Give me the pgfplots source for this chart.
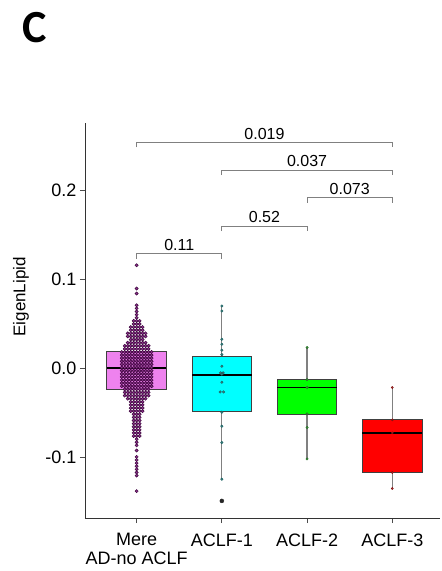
\documentclass[border=0pt]{standalone}
\usepackage{pgfplots}
\pgfplotsset{compat=1.18}
\usepgfplotslibrary{statistics}
\usepackage{fontspec}
\setmainfont{Liberation Sans}
\newfontfamily\carlito{Carlito}
\definecolor{boxviolet}{RGB}{238,130,238}
\definecolor{boxcyan}{RGB}{0,255,255}
\definecolor{boxgreen}{RGB}{0,255,0}
\definecolor{boxred}{RGB}{255,0,0}
\definecolor{dotpurpD}{RGB}{60,5,60}
\definecolor{dotpurpF}{RGB}{140,50,140}
\definecolor{dotteal}{RGB}{20,95,95}
\definecolor{dotgreen}{RGB}{30,110,30}
\definecolor{dotred}{RGB}{130,10,10}
\definecolor{brk}{RGB}{128,128,128}
\begin{document}
\begin{tikzpicture}
\useasboundingbox (-85pt,-53pt) rectangle (357pt,518pt);
\begin{axis}[
  scale only axis, width=355pt, height=395pt,
  xmin=-0.606, xmax=3.56, ymin=-0.168, ymax=0.276,
  clip=false,
  axis lines=left, axis line style={-, black!80, line width=0.8pt},
  tick align=outside, major tick length=5pt,
  tick style={black!70, line width=0.8pt},
  xtick={0,1,2,3},
  xticklabels={{Mere\\AD-no ACLF},ACLF-1,ACLF-2,ACLF-3},
  xticklabel style={align=center, yshift=-7pt, font=\fontsize{18}{19}\selectfont},
  ytick={-0.1,0,0.1,0.2},
  yticklabels={-0.1,0.0,0.1,0.2},
  yticklabel style={font=\fontsize{18}{19}\selectfont},
  ylabel={EigenLipid},
  ylabel style={at={(axis description cs:-0.18,0.56)}, anchor=center, font=\fontsize{17}{19}\selectfont},
  boxplot/draw direction=y,
  boxplot/box extend=0.7,
  boxplot/whisker extend=0,
  boxplot/every whisker/.style={draw=black!50, line width=1.2pt},
  boxplot/every median/.style={draw=black, line width=1.8pt},
  boxplot/every box/.style={draw=black!75, line width=0.8pt},
]
% boxes
\addplot[fill=boxviolet, boxplot prepared={draw position=0, lower whisker=-0.086, lower quartile=-0.023, median=0.0007, upper quartile=0.0194, upper whisker=0.0711}] coordinates {};
\addplot[fill=boxcyan, boxplot prepared={draw position=1, lower whisker=-0.1244, lower quartile=-0.048, median=-0.0075, upper quartile=0.0142, upper whisker=0.0703}] coordinates {};
\addplot[fill=boxgreen, boxplot prepared={draw position=2, lower whisker=-0.1016, lower quartile=-0.051, median=-0.0213, upper quartile=-0.0125, upper whisker=0.0236}] coordinates {};
\addplot[fill=boxred, boxplot prepared={draw position=3, lower whisker=-0.1348, lower quartile=-0.1169, median=-0.0723, upper quartile=-0.0577, upper whisker=-0.0213}] coordinates {};
% beeswarm, Mere AD-no ACLF
\addplot[only marks, mark=*, mark size=1.6pt, mark options={draw=dotpurpD, fill=dotpurpF, line width=0.5pt}] coordinates {
(0,0.1161) (0,0.0899) (0,0.0843) (0,0.0711) (0,0.0676) (0,0.0641) (0,0.0606) (0,0.0571)
(-0.035,0.0536) (0,0.0536) (0.035,0.0536)
(-0.035,0.0501) (0,0.0501) (0.035,0.0501)
(-0.07,0.0466) (-0.035,0.0466) (0,0.0466) (0.035,0.0466) (0.07,0.0466)
(-0.07,0.0431) (-0.035,0.0431) (0,0.0431) (0.035,0.0431) (0.07,0.0431)
(-0.105,0.0396) (-0.07,0.0396) (-0.035,0.0396) (0,0.0396) (0.035,0.0396) (0.07,0.0396) (0.105,0.0396)
(-0.105,0.0361) (-0.07,0.0361) (-0.035,0.0361) (0,0.0361) (0.035,0.0361) (0.07,0.0361) (0.105,0.0361)
(-0.07,0.0326) (-0.035,0.0326) (0,0.0326) (0.035,0.0326) (0.07,0.0326)
(-0.105,0.0291) (-0.07,0.0291) (-0.035,0.0291) (0,0.0291) (0.035,0.0291) (0.07,0.0291) (0.105,0.0291)
(-0.14,0.0256) (-0.105,0.0256) (-0.07,0.0256) (-0.035,0.0256) (0,0.0256) (0.035,0.0256) (0.07,0.0256) (0.105,0.0256) (0.14,0.0256)
(-0.14,0.0221) (-0.105,0.0221) (-0.07,0.0221) (-0.035,0.0221) (0,0.0221) (0.035,0.0221) (0.07,0.0221) (0.105,0.0221) (0.14,0.0221)
(-0.175,0.0186) (-0.14,0.0186) (-0.105,0.0186) (-0.07,0.0186) (-0.035,0.0186) (0,0.0186) (0.035,0.0186) (0.07,0.0186) (0.105,0.0186) (0.14,0.0186) (0.175,0.0186)
(-0.175,0.0151) (-0.14,0.0151) (-0.105,0.0151) (-0.07,0.0151) (-0.035,0.0151) (0,0.0151) (0.035,0.0151) (0.07,0.0151) (0.105,0.0151) (0.14,0.0151) (0.175,0.0151)
(-0.175,0.0116) (-0.14,0.0116) (-0.105,0.0116) (-0.07,0.0116) (-0.035,0.0116) (0,0.0116) (0.035,0.0116) (0.07,0.0116) (0.105,0.0116) (0.14,0.0116) (0.175,0.0116)
(-0.175,0.0081) (-0.14,0.0081) (-0.105,0.0081) (-0.07,0.0081) (-0.035,0.0081) (0,0.0081) (0.035,0.0081) (0.07,0.0081) (0.105,0.0081) (0.14,0.0081) (0.175,0.0081)
(-0.175,0.0046) (-0.14,0.0046) (-0.105,0.0046) (-0.07,0.0046) (-0.035,0.0046) (0,0.0046) (0.035,0.0046) (0.07,0.0046) (0.105,0.0046) (0.14,0.0046) (0.175,0.0046)
(-0.175,0.0011) (-0.14,0.0011) (-0.105,0.0011) (-0.07,0.0011) (-0.035,0.0011) (0,0.0011) (0.035,0.0011) (0.07,0.0011) (0.105,0.0011) (0.14,0.0011) (0.175,0.0011)
(-0.175,-0.0024) (-0.14,-0.0024) (-0.105,-0.0024) (-0.07,-0.0024) (-0.035,-0.0024) (0,-0.0024) (0.035,-0.0024) (0.07,-0.0024) (0.105,-0.0024) (0.14,-0.0024) (0.175,-0.0024)
(-0.175,-0.0059) (-0.14,-0.0059) (-0.105,-0.0059) (-0.07,-0.0059) (-0.035,-0.0059) (0,-0.0059) (0.035,-0.0059) (0.07,-0.0059) (0.105,-0.0059) (0.14,-0.0059) (0.175,-0.0059)
(-0.175,-0.0094) (-0.14,-0.0094) (-0.105,-0.0094) (-0.07,-0.0094) (-0.035,-0.0094) (0,-0.0094) (0.035,-0.0094) (0.07,-0.0094) (0.105,-0.0094) (0.14,-0.0094) (0.175,-0.0094)
(-0.175,-0.0129) (-0.14,-0.0129) (-0.105,-0.0129) (-0.07,-0.0129) (-0.035,-0.0129) (0,-0.0129) (0.035,-0.0129) (0.07,-0.0129) (0.105,-0.0129) (0.14,-0.0129) (0.175,-0.0129)
(-0.175,-0.0164) (-0.14,-0.0164) (-0.105,-0.0164) (-0.07,-0.0164) (-0.035,-0.0164) (0,-0.0164) (0.035,-0.0164) (0.07,-0.0164) (0.105,-0.0164) (0.14,-0.0164) (0.175,-0.0164)
(-0.175,-0.0199) (-0.14,-0.0199) (-0.105,-0.0199) (-0.07,-0.0199) (-0.035,-0.0199) (0,-0.0199) (0.035,-0.0199) (0.07,-0.0199) (0.105,-0.0199) (0.14,-0.0199) (0.175,-0.0199)
(-0.14,-0.0234) (-0.105,-0.0234) (-0.07,-0.0234) (-0.035,-0.0234) (0,-0.0234) (0.035,-0.0234) (0.07,-0.0234) (0.105,-0.0234) (0.14,-0.0234)
(-0.14,-0.0269) (-0.105,-0.0269) (-0.07,-0.0269) (-0.035,-0.0269) (0,-0.0269) (0.035,-0.0269) (0.07,-0.0269) (0.105,-0.0269) (0.14,-0.0269)
(-0.14,-0.0304) (-0.105,-0.0304) (-0.07,-0.0304) (-0.035,-0.0304) (0,-0.0304) (0.035,-0.0304) (0.07,-0.0304) (0.105,-0.0304) (0.14,-0.0304)
(-0.105,-0.0339) (-0.07,-0.0339) (-0.035,-0.0339) (0,-0.0339) (0.035,-0.0339) (0.07,-0.0339) (0.105,-0.0339)
(-0.07,-0.0374) (-0.035,-0.0374) (0,-0.0374) (0.035,-0.0374) (0.07,-0.0374)
(-0.07,-0.0409) (-0.035,-0.0409) (0,-0.0409) (0.035,-0.0409) (0.07,-0.0409)
(-0.07,-0.0444) (-0.035,-0.0444) (0,-0.0444) (0.035,-0.0444) (0.07,-0.0444)
(-0.07,-0.0479) (-0.035,-0.0479) (0,-0.0479) (0.035,-0.0479) (0.07,-0.0479)
(-0.035,-0.0514) (0,-0.0514) (0.035,-0.0514)
(-0.035,-0.0549) (0,-0.0549) (0.035,-0.0549)
(-0.035,-0.0584) (0,-0.0584) (0.035,-0.0584)
(-0.035,-0.0619) (0,-0.0619) (0.035,-0.0619)
(-0.035,-0.0654) (0,-0.0654) (0.035,-0.0654)
(-0.035,-0.0689) (0,-0.0689) (0.035,-0.0689)
(-0.035,-0.0724) (0,-0.0724) (0.035,-0.0724)
(-0.035,-0.0759) (0,-0.0759) (0.035,-0.0759)
(0,-0.0794) (0,-0.0829) (0,-0.0864) (0,-0.0921)
(0,-0.0993) (0,-0.1028) (0,-0.1063) (0,-0.1098) (0,-0.1133) (0,-0.1168) (0,-0.1203) (0,-0.1378)
};
% ACLF-1 points
\addplot[only marks, mark=*, mark size=1.3pt, mark options={draw=dotteal, fill=dotteal!80, line width=0.4pt}] coordinates {
(1,0.0703) (1,0.0647) (1,0.0329) (1,0.0273) (1,0.0206) (1,0.0157) (1,0.0026)
(0.985,-0.0049) (1.015,-0.0049) (1,-0.0064) (1,-0.0154) (0.98,-0.0263) (1.02,-0.0263)
(1,-0.0491) (1,-0.0648) (1,-0.0832) (1,-0.1244)
};
\addplot[only marks, mark=*, mark size=2.0pt, mark options={draw=black!85, fill=black!85}] coordinates {(1,-0.1488)};
% ACLF-2 points
\addplot[only marks, mark=*, mark size=1.2pt, mark options={draw=dotgreen, fill=dotgreen!80, line width=0.4pt}] coordinates {
(2,0.0236) (2,-0.0125) (2,-0.0213) (2,-0.051) (2,-0.0663) (2,-0.1016)
};
% ACLF-3 points
\addplot[only marks, mark=*, mark size=1.1pt, mark options={draw=dotred, fill=dotred!80, line width=0.4pt}] coordinates {
(3,-0.0213) (3,-0.0577) (3,-0.0723) (3,-0.1169) (3,-0.1348)
};
% significance brackets
\begin{scope}[brk, line width=0.8pt]
\draw (axis cs:0,0.1235) -- (axis cs:0,0.129) -- (axis cs:1,0.129) -- (axis cs:1,0.1235);
\draw (axis cs:1,0.1545) -- (axis cs:1,0.160) -- (axis cs:2,0.160) -- (axis cs:2,0.1545);
\draw (axis cs:2,0.1865) -- (axis cs:2,0.192) -- (axis cs:3,0.192) -- (axis cs:3,0.1865);
\draw (axis cs:1,0.2175) -- (axis cs:1,0.223) -- (axis cs:3,0.223) -- (axis cs:3,0.2175);
\draw (axis cs:0,0.2485) -- (axis cs:0,0.254) -- (axis cs:3,0.254) -- (axis cs:3,0.2485);
\end{scope}
\begin{scope}[every node/.style={anchor=south, inner sep=3pt, font=\fontsize{16}{18}\selectfont}]
\node at (axis cs:0.5,0.129) {0.11};
\node at (axis cs:1.5,0.160) {0.52};
\node at (axis cs:2.5,0.192) {0.073};
\node at (axis cs:2,0.223) {0.037};
\node at (axis cs:1.5,0.254) {0.019};
\end{scope}
\end{axis}
\node[anchor=base west, inner sep=0pt, font=\carlito\bfseries\fontsize{46}{50}\selectfont] at (-63pt,475pt) {C};
\end{tikzpicture}
\end{document}
